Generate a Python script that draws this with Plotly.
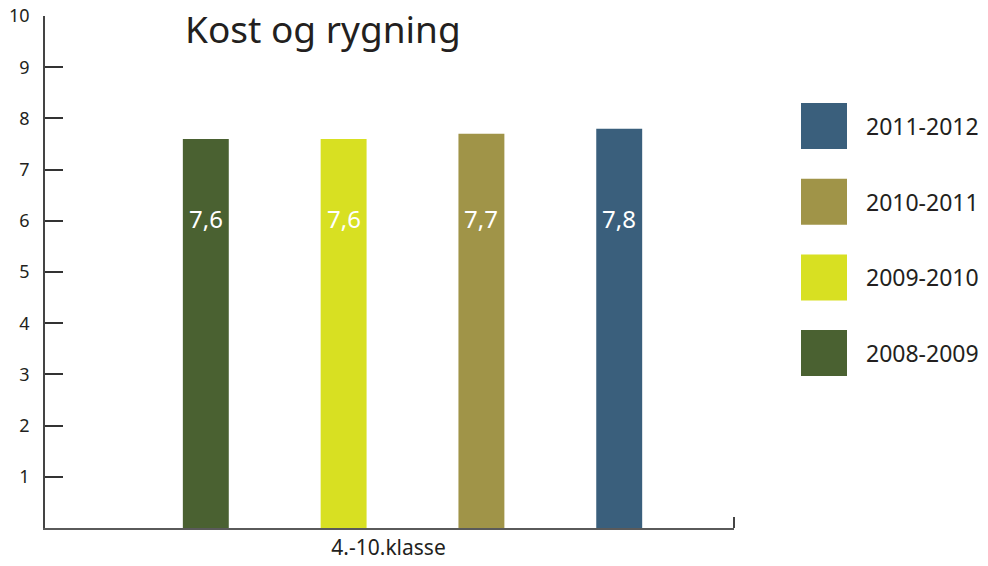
import plotly.graph_objects as go

title = "Kost og rygning"
category = "4.-10.klasse"
seasons = ["2008-2009", "2009-2010", "2010-2011", "2011-2012"]
values = [7.6, 7.6, 7.7, 7.8]
colors = ["#4a6131", "#d8e022", "#a09448", "#3a5f7c"]
y_ticks = [1, 2, 3, 4, 5, 6, 7, 8, 9, 10]

FONT = "Noto Sans"
# the page body adds an 8px margin, so the figure is 8px smaller and shifted
OFF = 8
W, H = 988 - OFF, 566 - OFF
L, R, T, B = 45 - OFF, 254, 16 - OFF, 38
pw, ph = W - L - R, H - T - B


def px(x):
    # page pixel -> paper x
    return (x - OFF - L) / pw


def py(y):
    # page pixel -> paper y
    return (H - B - (y - OFF)) / ph


fig = go.Figure()
for i, (s, v, c) in enumerate(zip(seasons, values, colors)):
    fig.add_trace(go.Bar(
        x=[i], y=[v], name=s, width=1 / 3,
        marker=dict(color=c, line=dict(width=0)),
        showlegend=False, hoverinfo="skip"))
    fig.add_annotation(
        x=i, y=6.05, text=f"{v:.1f}".replace(".", ","), showarrow=False,
        font=dict(family=FONT, size=24, color="white"))

# legend drawn as squares, newest on top
for k, (s, c) in enumerate(reversed(list(zip(seasons, colors)))):
    top = 103 + k * 75.7
    fig.add_shape(type="rect", xref="paper", yref="paper",
                  x0=px(801), x1=px(847), y0=py(top + 46), y1=py(top),
                  fillcolor=c, line=dict(width=0))
    fig.add_annotation(xref="paper", yref="paper", x=px(864), y=py(top + 23),
                       text=s, showarrow=False, xanchor="left", yanchor="middle",
                       font=dict(family=FONT, size=23, color="#231f20"))

fig.add_annotation(xref="paper", yref="paper", x=px(183), y=py(28),
                   text=title, showarrow=False, xanchor="left", yanchor="middle",
                   font=dict(family=FONT, size=37, color="#231f20"))

# small end tick on the x axis
fig.add_shape(type="line", xref="paper", yref="paper", x0=1, x1=1,
              y0=0, y1=py(517), line=dict(color="#444", width=2))

fig.update_layout(
    width=W, height=H, margin=dict(l=L, r=R, t=T, b=B, autoexpand=False),
    plot_bgcolor="white", paper_bgcolor="white",
    font=dict(family=FONT, color="#231f20"),
    xaxis=dict(range=[-1.167, 3.833], tickvals=[1.326], ticktext=[category],
               showline=True, linecolor="#5a5a5a", linewidth=2, ticks="",
               showgrid=False, zeroline=False, tickfont=dict(size=21),
               automargin=False, fixedrange=True),
    yaxis=dict(range=[0, 10.0001], tickvals=y_ticks, showline=True,
               linecolor="#444", linewidth=1.5, ticks="inside", ticklen=18,
               tickcolor="#333", tickwidth=1.5, showgrid=False, zeroline=False,
               tickfont=dict(size=18), ticklabelstandoff=10, automargin=False,
               ticklabeloverflow="allow", fixedrange=True),
)

fig.write_html("out.html")
